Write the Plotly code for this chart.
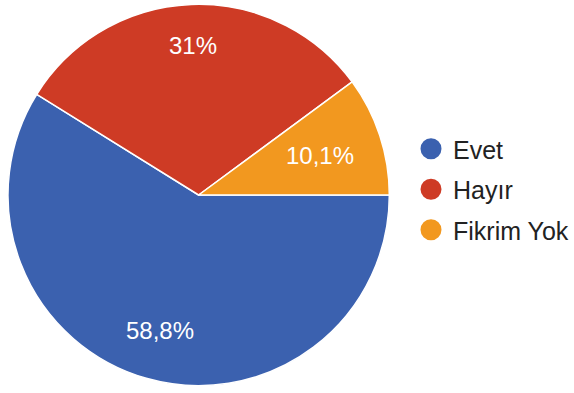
import math
import plotly.graph_objects as go

labels = ["Evet", "Hayır", "Fikrim Yok"]
values = [58.8, 31.0, 10.1]
value_text = ["58,8%", "31%", "10,1%"]
colors = ["#3B61AF", "#CE3B25", "#F2981F"]
label_radius = [0.74, 0.785, 0.67]  # fraction of pie radius for the value labels

W, H = 574, 393
PX0, PX1, PY0, PY1 = 8, 390, 4, 386  # pie box in pixels (top-left origin)
FONT = "Liberation Sans, Arial, sans-serif"

fig = go.Figure()
fig.add_trace(go.Pie(
    labels=labels, values=values, text=value_text,
    textinfo="none",
    marker=dict(colors=colors, line=dict(color="white", width=1.5)),
    sort=False, direction="clockwise", rotation=90,
    domain=dict(x=[PX0 / W, PX1 / W], y=[1 - PY1 / H, 1 - PY0 / H]),
    showlegend=False, hoverinfo="label+text",
))

# value labels placed at the angular middle of each slice
cx, cy, R = (PX0 + PX1) / 2, (PY0 + PY1) / 2, (PX1 - PX0) / 2
total = sum(values)
start = 90.0
for v, t, rf in zip(values, value_text, label_radius):
    sweep = 360.0 * v / total
    mid = math.radians(start + sweep / 2)
    px = cx + rf * R * math.sin(mid)
    py = cy - rf * R * math.cos(mid)
    fig.add_annotation(x=px / W, y=1 - py / H, xref="paper", yref="paper",
                       xanchor="center", yanchor="middle",
                       text=t, showarrow=False,
                       font=dict(color="white", size=24, family=FONT))
    start += sweep

for lab, col in zip(labels, colors):
    fig.add_trace(go.Scatter(
        x=[None], y=[None], mode="markers", name=lab, legendgroup=lab,
        marker=dict(symbol="circle", size=16, color=col,
                    line=dict(color=col, width=5)),
        showlegend=True,
    ))

fig.update_layout(
    width=W, height=H, margin=dict(l=0, r=0, t=0, b=0),
    paper_bgcolor="white", plot_bgcolor="white",
    xaxis=dict(visible=False), yaxis=dict(visible=False),
    font=dict(family=FONT, size=25, color="#222222"),
    legend=dict(x=410 / W, y=1 - 189.5 / H, xanchor="left", yanchor="middle",
                font=dict(size=25, color="#222222"), itemwidth=34,
                tracegroupgap=5, bgcolor="rgba(0,0,0,0)"),
)
fig.write_html("out.html", config={"displayModeBar": False},
               post_script="document.body.style.margin='0';")
